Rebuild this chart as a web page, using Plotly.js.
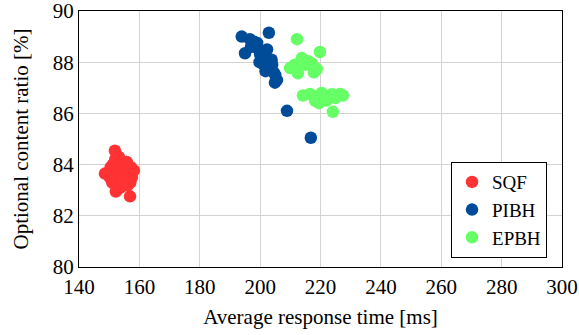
<!DOCTYPE html>
<html>
<head>
<meta charset="utf-8">
<script src="https://cdn.plot.ly/plotly-3.0.1.min.js"></script>
<style>html,body{margin:0;padding:0;background:#fff;}#chart{width:579px;height:335px;}</style>
</head>
<body>
<div id="chart"></div>
<script>
const seriesNames = ["SQF", "PIBH", "EPBH"];
const sqfX = [151.9, 148.6, 156.9, 158.2, 150.5, 151, 152, 152.5, 153, 153.5, 154, 154.5, 155, 155.5, 156, 156.5, 157, 157.5, 151.5, 152.8, 153.8, 154.8, 155.8, 150.2, 152.2, 153.2, 156.2, 157.2, 151.2, 154.2];
const sqfY = [84.54, 83.65, 82.76, 83.77, 83.9, 83.3, 84.2, 83.0, 83.6, 84.1, 83.4, 83.2, 83.9, 83.5, 84.0, 83.7, 83.3, 83.5, 83.7, 83.8, 83.1, 83.6, 84.1, 83.5, 82.95, 84.3, 83.2, 83.9, 84.0, 83.4];
const pibhX = [193.9, 202.9, 195, 196.6, 197.5, 198.3, 199, 199.5, 200, 200.5, 201, 201.5, 202, 202.5, 203, 203.5, 204, 204.5, 205, 205.6, 204.9, 208.9, 216.8, 198, 200.8, 202.3, 203.8, 201.8, 199.8, 197];
const pibhY = [89.0, 89.15, 88.35, 88.9, 88.7, 88.6, 88.75, 88.5, 88.3, 88.1, 88.4, 87.9, 88.2, 87.8, 88.0, 87.7, 87.9, 87.6, 87.5, 87.3, 87.2, 86.1, 85.05, 88.8, 87.95, 88.5, 88.1, 87.65, 88.0, 88.6];
const epbhX = [212.2, 219.8, 209.9, 213.8, 215.9, 218.8, 212.5, 217.2, 216.5, 218.2, 220.8, 223.8, 226.5, 224.1, 214.2, 215, 219.5, 222, 225, 227.4, 211.5, 214.8, 217.8, 220.4, 221.5];
const epbhY = [88.9, 88.4, 87.77, 88.16, 88.04, 87.73, 87.57, 87.95, 86.76, 86.49, 86.6, 86.75, 86.76, 86.06, 86.7, 87.9, 86.4, 86.5, 86.6, 86.7, 87.9, 88.05, 87.6, 86.8, 86.55];
const xTicks = [140, 160, 180, 200, 220, 240, 260, 280, 300];
const yTicks = [80, 82, 84, 86, 88, 90];

const colors = ["#ff3333", "#004c99", "#66ff66"];
const xs = [sqfX, pibhX, epbhX];
const ys = [sqfY, pibhY, epbhY];
const font = "Liberation Serif";

const traces = seriesNames.map((n, i) => ({
  type: "scatter", mode: "markers", name: n,
  x: xs[i], y: ys[i],
  marker: {color: colors[i], size: 12.5, line: {width: 0}},
  hoverinfo: "skip"
}));

const axisCommon = {
  showgrid: true, gridcolor: "#d3d3d3", gridwidth: 1,
  zeroline: false, showline: true, linecolor: "#000", linewidth: 1, mirror: true,
  ticks: "", ticklabeloverflow: "allow",
  tickfont: {family: font, size: 21, color: "#000"}
};

const layout = {
  width: 579, height: 335,
  margin: {l: 79, r: 17, t: 11, b: 67.5, pad: 0},
  paper_bgcolor: "#fff", plot_bgcolor: "#fff",
  font: {family: font, color: "#000"},
  showlegend: true,
  legend: {
    x: 0.969, y: 0.035, xanchor: "right", yanchor: "bottom",
    bgcolor: "#fff", bordercolor: "#000", borderwidth: 1,
    font: {family: font, size: 19, color: "#000"},
    itemwidth: 30, tracegroupgap: 0
  },
  xaxis: Object.assign({}, axisCommon, {
    range: [140, 300], tickvals: xTicks, ticktext: xTicks.map(String),
    ticklabelstandoff: 1,
    title: {text: "Average response time [ms]", font: {family: font, size: 21, color: "#000"}, standoff: 11}
  }),
  yaxis: Object.assign({}, axisCommon, {
    range: [80, 90.0001], tickvals: yTicks, ticktext: yTicks.map(String),
    title: {text: "Optional content ratio [%]", font: {family: font, size: 21, color: "#000"}, standoff: 18}
  })
};

Plotly.newPlot("chart", traces, layout, {displayModeBar: false, staticPlot: true});
</script>
</body>
</html>
